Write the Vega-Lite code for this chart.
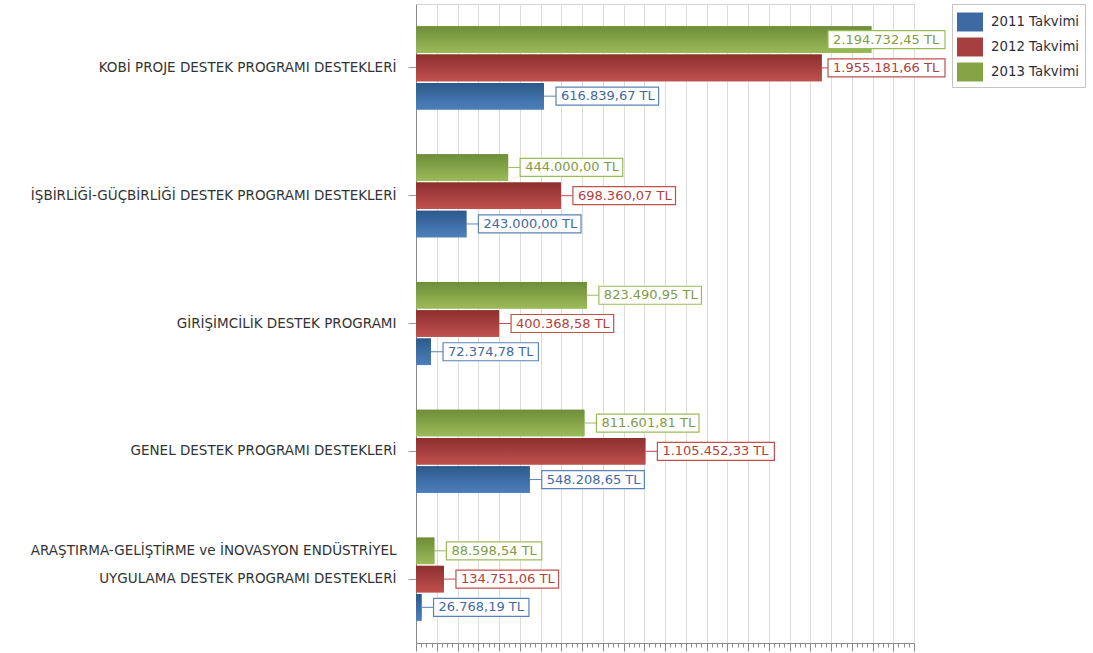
{
  "$schema": "https://vega.github.io/schema/vega-lite/v6.json",
  "width": 498,
  "height": 639,
  "autosize": "none",
  "padding": {"left": 416, "top": 4, "right": 179, "bottom": 10},
  "background": "white",
  "config": {
    "font": "DejaVu Sans",
    "view": {"stroke": "#d4d4d4"},
    "axis": {"labelFont": "DejaVu Sans", "titleFont": "DejaVu Sans"}
  },
  "data": {
    "values": [
      {"cat": "KOBİ PROJE DESTEK PROGRAMI DESTEKLERİ", "series": "2011 Takvimi", "value": 616839.67, "label": "616.839,67 TL"},
      {"cat": "KOBİ PROJE DESTEK PROGRAMI DESTEKLERİ", "series": "2012 Takvimi", "value": 1955181.66, "label": "1.955.181,66 TL"},
      {"cat": "KOBİ PROJE DESTEK PROGRAMI DESTEKLERİ", "series": "2013 Takvimi", "value": 2194732.45, "label": "2.194.732,45 TL"},
      {"cat": "İŞBİRLİĞİ-GÜÇBİRLİĞİ DESTEK PROGRAMI DESTEKLERİ", "series": "2011 Takvimi", "value": 243000.00, "label": "243.000,00 TL"},
      {"cat": "İŞBİRLİĞİ-GÜÇBİRLİĞİ DESTEK PROGRAMI DESTEKLERİ", "series": "2012 Takvimi", "value": 698360.07, "label": "698.360,07 TL"},
      {"cat": "İŞBİRLİĞİ-GÜÇBİRLİĞİ DESTEK PROGRAMI DESTEKLERİ", "series": "2013 Takvimi", "value": 444000.00, "label": "444.000,00 TL"},
      {"cat": "GİRİŞİMCİLİK DESTEK PROGRAMI", "series": "2011 Takvimi", "value": 72374.78, "label": "72.374,78 TL"},
      {"cat": "GİRİŞİMCİLİK DESTEK PROGRAMI", "series": "2012 Takvimi", "value": 400368.58, "label": "400.368,58 TL"},
      {"cat": "GİRİŞİMCİLİK DESTEK PROGRAMI", "series": "2013 Takvimi", "value": 823490.95, "label": "823.490,95 TL"},
      {"cat": "GENEL DESTEK PROGRAMI DESTEKLERİ", "series": "2011 Takvimi", "value": 548208.65, "label": "548.208,65 TL"},
      {"cat": "GENEL DESTEK PROGRAMI DESTEKLERİ", "series": "2012 Takvimi", "value": 1105452.33, "label": "1.105.452,33 TL"},
      {"cat": "GENEL DESTEK PROGRAMI DESTEKLERİ", "series": "2013 Takvimi", "value": 811601.81, "label": "811.601,81 TL"},
      {"cat": "ARAŞTIRMA-GELİŞTİRME ve İNOVASYON ENDÜSTRİYEL|UYGULAMA DESTEK PROGRAMI DESTEKLERİ", "series": "2011 Takvimi", "value": 26768.19, "label": "26.768,19 TL"},
      {"cat": "ARAŞTIRMA-GELİŞTİRME ve İNOVASYON ENDÜSTRİYEL|UYGULAMA DESTEK PROGRAMI DESTEKLERİ", "series": "2012 Takvimi", "value": 134751.06, "label": "134.751,06 TL"},
      {"cat": "ARAŞTIRMA-GELİŞTİRME ve İNOVASYON ENDÜSTRİYEL|UYGULAMA DESTEK PROGRAMI DESTEKLERİ", "series": "2013 Takvimi", "value": 88598.54, "label": "88.598,54 TL"}
    ]
  },
  "encoding": {
    "y": {
      "field": "cat", "type": "nominal", "sort": null, "title": null,
      "scale": {"paddingInner": 0.35, "paddingOuter": 0.175},
      "axis": {
        "labelExpr": "indexof(datum.value, '|') >= 0 ? split(datum.value, '|') : datum.value",
        "labelLineHeight": 28,
        "labelOffset": {"condition": {"test": "indexof(datum.value, '|') >= 0", "value": -28}, "value": 0},
        "labelFontSize": 13.5,
        "labelColor": "#333333",
        "labelPadding": 12,
        "labelLimit": 400,
        "tickSize": 8,
        "tickColor": "#999999",
        "domainColor": "#8a8a8a",
        "grid": false
      }
    },
    "yOffset": {
      "field": "series", "type": "nominal",
      "scale": {"domain": ["2013 Takvimi", "2012 Takvimi", "2011 Takvimi"], "paddingInner": 0.06}
    },
    "x": {
      "field": "value", "type": "quantitative", "title": null,
      "scale": {"domain": [0, 2400000], "nice": false, "zero": true},
      "axis": {
        "orient": "bottom", "labels": false, "grid": true,
        "values": [0,25000,50000,75000,100000,125000,150000,175000,200000,225000,250000,275000,300000,325000,350000,375000,400000,425000,450000,475000,500000,525000,550000,575000,600000,625000,650000,675000,700000,725000,750000,775000,800000,825000,850000,875000,900000,925000,950000,975000,1000000,1025000,1050000,1075000,1100000,1125000,1150000,1175000,1200000,1225000,1250000,1275000,1300000,1325000,1350000,1375000,1400000,1425000,1450000,1475000,1500000,1525000,1550000,1575000,1600000,1625000,1650000,1675000,1700000,1725000,1750000,1775000,1800000,1825000,1850000,1875000,1900000,1925000,1950000,1975000,2000000,2025000,2050000,2075000,2100000,2125000,2150000,2175000,2200000,2225000,2250000,2275000,2300000,2325000,2350000,2375000,2400000],
        "gridColor": "#dcdcdc",
        "gridOpacity": {"condition": {"test": "datum.value % 100000 == 0", "value": 1}, "value": 0},
        "tickSize": {"condition": {"test": "datum.value % 100000 == 0", "value": 8}, "value": 4},
        "tickColor": "#8a8a8a",
        "domainColor": "#8a8a8a"
      }
    }
  },
  "layer": [
    {
      "mark": {"type": "bar"},
      "encoding": {
        "color": {
          "field": "series", "type": "nominal",
          "scale": {"domain": ["2011 Takvimi", "2012 Takvimi", "2013 Takvimi"], "range": ["#3d6aa3", "#a6403e", "#85a446"]},
          "legend": {
            "title": null, "orient": "none", "legendX": 536, "legendY": 0,
            "symbolType": "M-1,-0.73H1V0.73H-1Z", "symbolSize": 676,
            "symbolStrokeWidth": 0, "labelFontSize": 13.3, "labelColor": "#2e2e3a",
            "labelFont": "DejaVu Sans", "labelOffset": 8,
            "rowPadding": 2, "padding": 5, "strokeColor": "#c4c4c4", "fillColor": "white",
            "symbolOpacity": 1
          }
        }
      }
    },
    {
      "transform": [{"filter": "datum.series == '2011 Takvimi'"}],
      "mark": {"type": "bar", "color": {"gradient": "linear", "x1": 0, "y1": 0, "x2": 0, "y2": 1, "stops": [{"offset": 0, "color": "#2d5a8c"}, {"offset": 1, "color": "#4d7fbb"}]}},
      "encoding": {}
    },
    {
      "transform": [{"filter": "datum.series == '2012 Takvimi'"}],
      "mark": {"type": "bar", "color": {"gradient": "linear", "x1": 0, "y1": 0, "x2": 0, "y2": 1, "stops": [{"offset": 0, "color": "#8c302e"}, {"offset": 1, "color": "#c0504d"}]}},
      "encoding": {}
    },
    {
      "transform": [{"filter": "datum.series == '2013 Takvimi'"}],
      "mark": {"type": "bar", "color": {"gradient": "linear", "x1": 0, "y1": 0, "x2": 0, "y2": 1, "stops": [{"offset": 0, "color": "#6e8d39"}, {"offset": 1, "color": "#9bbb59"}]}},
      "encoding": {}
    },
    {
      "mark": {"type": "rule", "strokeWidth": 1, "x2Offset": {"expr": "min(12, 529 - scale('x', datum.value) - (9 + 7.2 * length(datum.label)))"}},
      "encoding": {
        "x2": {"field": "value"},
        "stroke": {"field": "series", "type": "nominal", "scale": {"domain": ["2011 Takvimi", "2012 Takvimi", "2013 Takvimi"], "range": ["#5a82b8", "#c0504d", "#9bbb59"]}, "legend": null}
      }
    },
    {
      "mark": {"type": "bar", "fill": "white", "strokeWidth": 1.2, "height": 18,
        "xOffset": {"expr": "min(12, 529 - scale('x', datum.value) - (9 + 7.2 * length(datum.label)))"},
        "x2Offset": {"expr": "min(12, 529 - scale('x', datum.value) - (9 + 7.2 * length(datum.label))) + 9 + 7.2 * length(datum.label)"}},
      "encoding": {
        "x2": {"field": "value"},
        "stroke": {"field": "series", "type": "nominal", "legend": null}
      }
    },
    {
      "mark": {"type": "text", "align": "left", "baseline": "middle", "fontSize": 13, "font": "DejaVu Sans",
        "xOffset": {"expr": "min(12, 529 - scale('x', datum.value) - (9 + 7.2 * length(datum.label))) + 5"}},
      "encoding": {
        "text": {"field": "label"},
        "fill": {"field": "series", "type": "nominal", "scale": {"domain": ["2011 Takvimi", "2012 Takvimi", "2013 Takvimi"], "range": ["#4369a3", "#b03f3d", "#7f9c45"]}, "legend": null}
      }
    }
  ]
}
